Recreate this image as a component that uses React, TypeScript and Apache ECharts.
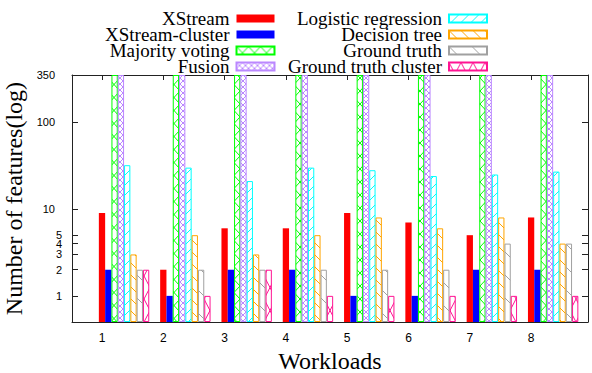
import React, { useEffect, useRef } from 'react';
import * as echarts from 'echarts';

// ---- data ----
const workloads = [1, 2, 3, 4, 5, 6, 7, 8];
const seriesNames = [
  'XStream',
  'XStream-cluster',
  'Majority voting',
  'Fusion',
  'Logistic regression',
  'Decision tree',
  'Ground truth',
  'Ground truth cluster',
];
const xstream = [9, 2, 6, 6, 9, 7, 5, 8];
const xstreamCluster = [2, 1, 2, 2, 1, 1, 2, 2];
const majorityVoting = [350, 350, 350, 350, 350, 350, 350, 350];
const fusion = [350, 350, 350, 350, 350, 350, 350, 350];
const logisticRegression = [32, 30, 21, 30, 28, 24, 25, 27];
const decisionTree = [3, 5, 3, 5, 8, 6, 8, 4];
const groundTruth = [2, 2, 2, 2, 2, 2, 4, 4];
const groundTruthCluster = [2, 1, 2, 1, 1, 1, 1, 1];
const yTickValues = [1, 2, 3, 4, 5, 10, 100, 350];

const allValues = [
  xstream,
  xstreamCluster,
  majorityVoting,
  fusion,
  logisticRegression,
  decisionTree,
  groundTruth,
  groundTruthCluster,
];

// ---- styles ----
const colors = ['#ff0000', '#0000ff', '#00ff00', '#bb88ff', '#00ffff', '#ffa500', '#a0a0a0', '#ff1493'];
// pattern: [kind, tileW, tileH]
const patterns: (null | [string, number, number])[] = [
  null,
  null,
  ['x', 12, 13],
  ['x', 6, 6],
  ['/', 10, 10],
  ['\\', 12, 12],
  ['\\', 23, 23],
  ['x', 12, 23],
];

function makePattern(color: string, kind: string, w: number, h: number) {
  const c = document.createElement('canvas');
  c.width = w;
  c.height = h;
  const ctx = c.getContext('2d')!;
  ctx.fillStyle = '#ffffff';
  ctx.fillRect(0, 0, w, h);
  ctx.strokeStyle = color;
  ctx.lineWidth = 1;
  ctx.beginPath();
  if (kind === '/' || kind === 'x') {
    ctx.moveTo(-w, 2 * h);
    ctx.lineTo(2 * w, -h);
    ctx.moveTo(-w, h);
    ctx.lineTo(w, -h);
    ctx.moveTo(0, 2 * h);
    ctx.lineTo(2 * w, 0);
  }
  if (kind === '\\' || kind === 'x') {
    ctx.moveTo(-w, -h);
    ctx.lineTo(2 * w, 2 * h);
    ctx.moveTo(0, -h);
    ctx.lineTo(2 * w, h);
    ctx.moveTo(-w, 0);
    ctx.lineTo(w, 2 * h);
  }
  ctx.stroke();
  return { image: c, repeat: 'repeat', imageWidth: w, imageHeight: h } as any;
}

// layout helpers (axis ranges)
const unitPx = 61.3;
const plotW = 516;
const labelMin = 1 - 30 / unitPx;
const labelMax = labelMin + plotW / unitPx;
const barW = 6.3;
const barShift = (3.5 * barW) / unitPx;

export default function App() {
  const ref = useRef<HTMLDivElement>(null);
  useEffect(() => {
    if (!ref.current) return;
    const chart = echarts.init(ref.current, undefined, { renderer: 'svg' });

    const series = seriesNames.map((name, i) => {
      const p = patterns[i];
      const fill = p ? makePattern(colors[i], p[0], p[1], p[2]) : colors[i];
      return {
        name,
        type: 'bar',
        xAxisIndex: 0,
        yAxisIndex: 0,
        barWidth: barW,
        barGap: '0%',
        clip: true,
        data: workloads.map((w, k) => [w, allValues[i][k]]),
        itemStyle: {
          color: fill,
          borderColor: colors[i],
          borderWidth: p ? 1 : 0,
        },
      };
    });

    const legendText = {
      fontFamily: 'Liberation Serif',
      fontSize: 19,
      color: '#000',
      lineHeight: 16,
      padding: [0, 2, 0, 0],
    };

    const yLabelFmt = (v: number) => {
      const r = Math.round(v);
      return r >= 10 ? `{w|${r}}` : `{n|${r}}`;
    };
    const yRich = {
      w: { fontFamily: 'Liberation Sans', fontSize: 11, color: '#000', padding: [0, 7, 0, 0] },
      n: { fontFamily: 'Liberation Sans', fontSize: 11, color: '#000' },
    };

    const legendBase = {
      orient: 'vertical',
      align: 'right',
      top: 9,
      padding: 0,
      itemGap: -3,
      itemWidth: 38,
      itemHeight: 8,
      icon: 'rect',
      selectedMode: false,
      textStyle: legendText,
    };

    const option: any = {
      animation: false,
      backgroundColor: '#ffffff',
      grid: {
        left: 72,
        right: 4,
        top: 75,
        bottom: 51,
        containLabel: false,
        outerBoundsMode: 'none',
      },
      legend: [
        { ...legendBase, data: seriesNames.slice(0, 4), right: 592 - 275.5 },
        { ...legendBase, data: seriesNames.slice(4), right: 592 - 488 },
      ],
      xAxis: [
        {
          type: 'value',
          min: labelMin - barShift,
          max: labelMax - barShift,
          show: false,
          position: 'bottom',
        },
        {
          type: 'value',
          min: labelMin,
          max: labelMax,
          position: 'bottom',
          splitLine: { show: false },
          axisLine: { show: true, lineStyle: { color: '#222', width: 1 } },
          axisTick: { show: true, inside: true, length: 5, customValues: workloads, lineStyle: { color: '#222' } },
          axisLabel: {
            customValues: workloads,
            fontFamily: 'Liberation Sans',
            fontSize: 12,
            color: '#000',
            margin: 10,
            formatter: (v: number) => String(Math.round(v)),
          },
          name: 'Workloads',
          nameLocation: 'middle',
          nameGap: 24,
          nameTextStyle: { fontFamily: 'Liberation Serif', fontSize: 24, color: '#000' },
        },
        {
          type: 'value',
          min: labelMin,
          max: labelMax,
          position: 'top',
          splitLine: { show: false },
          axisLine: { show: true, lineStyle: { color: '#222', width: 1 } },
          axisTick: { show: true, inside: true, length: 5, customValues: workloads, lineStyle: { color: '#222' } },
          axisLabel: { show: false },
        },
      ],
      yAxis: [
        {
          type: 'log',
          logBase: 10,
          min: 0.5,
          max: 350,
          startValue: 0.5,
          position: 'left',
          splitLine: { show: false },
          axisLine: { show: true, lineStyle: { color: '#222', width: 1 } },
          axisTick: { show: true, inside: true, length: 6, customValues: yTickValues, lineStyle: { color: '#222' } },
          axisLabel: {
            customValues: yTickValues,
            margin: 10,
            formatter: yLabelFmt,
            rich: yRich,
            fontFamily: 'Liberation Sans',
            fontSize: 11,
            color: '#000',
          },
          name: 'Number of features(log)',
          nameLocation: 'middle',
          nameRotate: 90,
          nameGap: 39,
          nameTextStyle: { fontFamily: 'Liberation Serif', fontSize: 24, color: '#000' },
        },
        {
          type: 'log',
          logBase: 10,
          min: 0.5,
          max: 350,
          position: 'right',
          splitLine: { show: false },
          axisLine: { show: true, lineStyle: { color: '#222', width: 1 } },
          axisTick: { show: true, inside: true, length: 6, customValues: yTickValues, lineStyle: { color: '#222' } },
          axisLabel: { show: false },
        },
      ],
      series,
    };
    chart.setOption(option);
    return () => chart.dispose();
  }, []);
  return (
    <div
      ref={ref}
      style={{ position: 'absolute', left: 0, top: 0, width: 592, height: 373, background: '#fff' }}
    />
  );
}
